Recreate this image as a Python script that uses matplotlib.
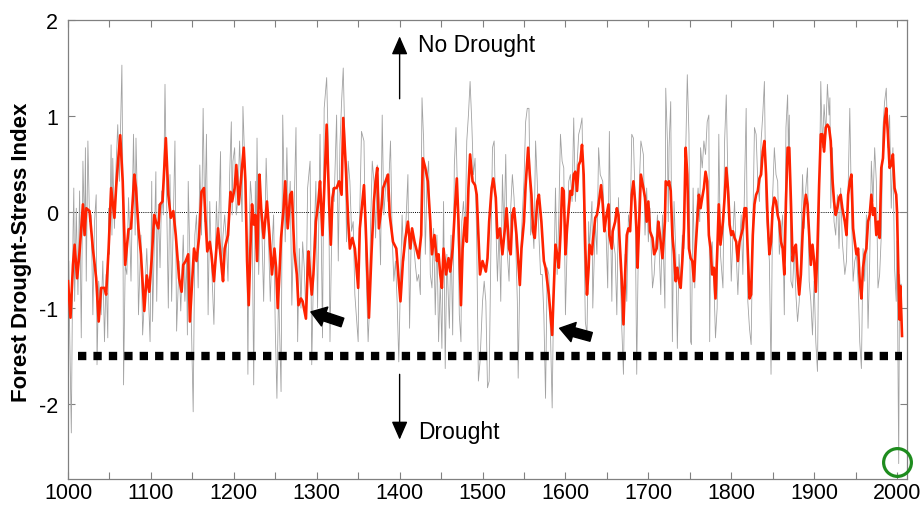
import matplotlib
matplotlib.use("Agg")
from matplotlib import pyplot as plt

# smoothed index (red)
red_years = [
    1000, 1003, 1006, 1008, 1011, 1014, 1018, 1020, 1022, 1026,
    1030, 1034, 1037, 1040, 1044, 1046, 1049, 1052, 1056, 1058,
    1060, 1063, 1066, 1069, 1073, 1076, 1080, 1082, 1085, 1088,
    1092, 1095, 1098, 1101, 1104, 1106, 1109, 1111, 1114, 1118,
    1121, 1124, 1127, 1130, 1134, 1137, 1139, 1142,
    1145, 1147, 1150, 1152, 1155, 1158, 1161, 1164, 1166, 1168,
    1171, 1173, 1176, 1179, 1181, 1185, 1187, 1189, 1193, 1196,
    1198, 1201, 1203, 1206, 1212, 1214, 1216, 1218, 1220, 1222,
    1224, 1226, 1228, 1231, 1233, 1236, 1240, 1243, 1246, 1249,
    1251, 1253, 1255, 1257, 1260, 1262, 1265, 1268, 1270, 1273,
    1276, 1278, 1281, 1283, 1287, 1289,
    1290, 1292, 1294, 1296, 1299, 1302, 1304, 1307, 1309, 1312,
    1315, 1317, 1319, 1321, 1324, 1327, 1330, 1332, 1335, 1338,
    1340, 1343, 1346, 1350, 1352, 1357, 1359, 1363, 1366, 1369,
    1371, 1373, 1375, 1378, 1380, 1383, 1386, 1388, 1392, 1396,
    1399, 1401, 1404, 1407, 1410, 1413, 1415, 1418, 1420, 1423,
    1426, 1428, 1431, 1434,
    1437, 1439, 1442, 1445, 1447, 1449, 1451, 1453, 1456, 1459,
    1461, 1464, 1467, 1469, 1471, 1474, 1476, 1479, 1481, 1483,
    1485, 1488, 1491, 1493, 1495, 1497, 1500, 1504, 1506, 1508,
    1511, 1513, 1516, 1518, 1521, 1524, 1527, 1529, 1532, 1534,
    1536, 1538, 1541, 1545, 1547, 1550, 1552, 1555, 1557, 1559,
    1561, 1563, 1566, 1568, 1571, 1574, 1576, 1579,
    1580, 1582, 1584, 1586, 1588, 1590, 1592, 1594, 1596, 1598,
    1600, 1602, 1604, 1606, 1608, 1610, 1612, 1614, 1616, 1618,
    1620, 1622, 1624, 1626, 1628, 1629, 1632, 1633, 1636, 1638,
    1640, 1643, 1645, 1647, 1649, 1652, 1653, 1656, 1657, 1660,
    1662, 1664, 1665, 1668, 1670, 1672, 1674, 1676, 1678, 1680,
    1682, 1684, 1686, 1687, 1689, 1691, 1694, 1696, 1698, 1700,
    1702, 1705, 1707, 1710, 1712, 1714, 1717, 1720, 1721, 1724,
    1725, 1727, 1729, 1731, 1733, 1735, 1737, 1739, 1741, 1743,
    1745, 1747, 1749, 1751, 1753, 1755, 1757, 1759, 1761, 1763,
    1765, 1767, 1769, 1771, 1773, 1775, 1777, 1779, 1781, 1783,
    1785, 1787, 1790, 1792, 1794, 1796, 1798, 1800, 1802, 1804,
    1806, 1808, 1810, 1812, 1814, 1816, 1818, 1820, 1822, 1824,
    1826, 1828, 1830, 1832, 1834, 1836, 1838, 1840, 1842, 1844,
    1846, 1848, 1850, 1852, 1854, 1856, 1858, 1860, 1862, 1864, 1866, 1868,
    1870, 1872, 1874, 1876, 1878, 1880, 1882, 1884, 1886, 1888,
    1890, 1892, 1894, 1896, 1898, 1900, 1902, 1904, 1906, 1908,
    1910, 1912, 1914, 1916, 1918, 1920, 1922, 1924, 1926, 1928,
    1930, 1932, 1934, 1937, 1939, 1941, 1943, 1945, 1947, 1949,
    1951, 1953, 1955, 1957, 1959, 1961, 1963, 1965, 1967, 1969,
    1971, 1973, 1975, 1977, 1979, 1981, 1983, 1985, 1987, 1989,
    1991, 1993, 1995, 1997, 1999, 2000, 2002, 2003, 2004, 2006,
]
red_index = [
    -0.72, -1.10, -0.55, -0.34, -0.69, -0.41, 0.08, -0.24, 0.04, 0.01,
    -0.38, -0.69, -1.14, -0.79, -0.79, -0.86, -0.38, 0.25, -0.06, 0.25,
    0.49, 0.80, 0.32, -0.55, -0.18, -0.17, 0.39, 0.25, -0.17, -0.44,
    -1.03, -0.66, -0.83, -0.48, -0.03, -0.10, -0.17, 0.08, 0.11, 0.77,
    0.18, -0.06, 0.01, -0.24, -0.69, -0.83, -0.55, -0.51,
    -0.44, -1.14, -0.69, -0.38, -0.51, -0.27, 0.21, 0.25, -0.10, -0.41,
    -0.31, -0.44, -0.72, -0.38, -0.17, -0.55, -0.72, -0.38, -0.24, 0.21,
    0.11, 0.25, 0.49, 0.08, 0.67, 0.32, -0.51, -0.97, -0.38, 0.08,
    -0.13, -0.03, -0.51, 0.39, 0.04, -0.27, 0.11, -0.24, -0.65, -0.38,
    -0.58, -1.00, -0.65, -0.27, 0.04, 0.32, -0.17, 0.18, 0.21, -0.41,
    -0.65, -0.97, -0.90, -0.93, -1.11, -0.62,
    -0.41, -0.65, -0.86, -0.65, -0.10, 0.11, 0.32, -0.24, 0.22, 0.91,
    0.08, -0.34, 0.15, 0.25, 0.25, 0.32, 0.18, 0.98, 0.49, -0.10,
    -0.38, -0.27, -0.38, -0.79, -0.17, 0.28, -0.13, -1.10, -0.44, 0.11,
    0.32, 0.46, -0.17, 0.04, 0.25, 0.32, 0.39, -0.03, -0.31, -0.38,
    -0.72, -0.93, -0.51, -0.27, -0.10, -0.38, -0.17, -0.31, -0.38, -0.48,
    -0.24, 0.56, 0.46, 0.32,
    -0.10, -0.44, -0.24, -0.51, -0.44, -0.65, -0.79, -0.38, -0.65, -0.48,
    -0.62, -0.38, 0.08, 0.35, -0.10, -0.97, -0.38, -0.06, -0.31, 0.25,
    0.60, 0.32, 0.28, 0.18, -0.24, -0.65, -0.51, -0.62, -0.48, -0.10,
    0.25, 0.35, 0.15, -0.27, -0.17, -0.44, -0.17, 0.04, -0.38, -0.44,
    -0.03, 0.04, -0.24, -0.76, -0.38, -0.10, 0.28, 0.67, 0.39, 0.18,
    -0.20, -0.27, 0.11, 0.18, -0.10, -0.51, -0.58, -0.79,
    -0.86, -1.07, -1.28, -0.79, -0.34, -0.44, -0.58, -0.24, 0.25, 0.22,
    -0.44, -0.17, 0.04, 0.22, 0.18, 0.39, 0.42, 0.22, 0.49, 0.53,
    0.70, 0.39, -0.38, -0.86, -0.58, -0.34, -0.44, -0.31, -0.06, -0.03,
    0.08, 0.28, 0.08, -0.20, -0.06, 0.08, -0.24, -0.38, -0.20, -0.10,
    0.04, -0.03, -0.24, -0.72, -1.17, -0.65, -0.24, -0.17, -0.20, 0.18,
    0.32, 0.11, -0.24, -0.58, -0.10, 0.39, 0.25, 0.15, -0.10, 0.11,
    -0.20, -0.27, -0.44, -0.38, -0.10, -0.24, -0.48, -0.10, 0.32, 0.28,
    0.32, 0.22, -0.24, -0.44, -0.72, -0.58, -0.72, -0.79, -0.51, -0.17,
    0.67, 0.39, -0.38, -0.48, -0.51, -0.72, -0.38, -0.10, 0.18, 0.04,
    0.15, 0.25, 0.42, 0.32, -0.24, -0.38, -0.65, -0.58, -0.90, -0.44,
    0.08, -0.34, -0.10, 0.15, 0.46, 0.25, -0.13, -0.24, -0.20, -0.27,
    -0.31, -0.51, -0.31, -0.24, -0.17, 0.04, 0.04, -0.44, -0.90, -0.86,
    -0.24, 0.08, 0.18, 0.22, 0.35, 0.39, 0.63, 0.74, 0.39, -0.10,
    -0.44, -0.31, 0.04, 0.15, 0.11, -0.03, -0.10, -0.31, -0.38, -0.65, 0.11, 0.67,
    0.67, 0.11, -0.51, -0.38, -0.34, -0.65, -0.86, -0.65, -0.24, 0.04,
    0.18, 0.08, -0.24, -0.55, -0.34, -0.51, -0.83, -0.38, 0.28, 0.81,
    0.81, 0.63, 0.88, 0.91, 0.88, 0.74, 0.35, 0.11, -0.03, 0.04,
    0.15, 0.18, 0.04, -0.10, -0.24, 0.18, 0.32, 0.39, -0.17, -0.31,
    -0.44, -0.38, -0.72, -0.90, -0.58, -0.44, -0.38, -0.10, -0.03, 0.18,
    -0.03, 0.04, -0.24, -0.10, -0.27, 0.46, 0.56, 0.94, 1.08, 0.81,
    0.46, 0.49, 0.60, 0.25, 0.18, 0.00, -0.80, -1.12, -0.77, -1.29,
]

# annual values (grey), main spikes
gray_years = [
    1000, 1001, 1002, 1004, 1006, 1007, 1008, 1010, 1012, 1014,
    1016, 1018, 1020, 1021, 1022, 1024, 1026, 1028, 1030, 1032,
    1034, 1035, 1037, 1040, 1042, 1044, 1046, 1048, 1049, 1050,
    1052, 1053, 1054, 1056, 1058, 1060, 1062, 1065, 1066, 1067,
    1069, 1071, 1073, 1075, 1076, 1079, 1081, 1082, 1083, 1085,
    1088, 1090, 1093, 1095, 1099, 1101, 1102, 1106, 1107, 1109,
    1111, 1113, 1115, 1117, 1119, 1121, 1123, 1125, 1129, 1131,
    1134, 1136, 1139, 1141, 1143, 1144,
    1145, 1149, 1151, 1153, 1155, 1157, 1159, 1161, 1163, 1165,
    1167, 1169, 1171, 1173, 1176, 1179, 1181, 1184, 1185, 1187,
    1189, 1191, 1193, 1195, 1197, 1198, 1199, 1201, 1203, 1205,
    1207, 1210, 1211, 1214, 1216, 1217, 1218, 1220, 1222, 1224,
    1226, 1227, 1228, 1230, 1232, 1234, 1236, 1239, 1241, 1244,
    1246, 1248, 1250, 1252, 1254, 1257, 1259, 1262, 1264, 1266,
    1268, 1270, 1272, 1275, 1277, 1279, 1281, 1283, 1285, 1287, 1289,
    1292, 1294, 1297, 1299, 1301, 1304, 1307, 1309, 1312, 1314,
    1316, 1319, 1321, 1324, 1326, 1328, 1330, 1332, 1334, 1336,
    1338, 1340, 1342, 1344, 1346, 1350, 1351, 1354, 1357, 1359,
    1362, 1363, 1365, 1367, 1369, 1371, 1373, 1375, 1377, 1379,
    1381, 1384, 1386, 1389, 1391, 1393, 1395, 1397, 1399, 1401,
    1403, 1405, 1407, 1410, 1412, 1414, 1417, 1419, 1421, 1423,
    1425, 1427, 1429, 1431, 1433,
    1435, 1437, 1439, 1441, 1443, 1445, 1447, 1449, 1451, 1453,
    1455, 1457, 1460, 1462, 1464, 1466, 1468, 1470, 1472, 1474,
    1475, 1477, 1479, 1481, 1483, 1485, 1487, 1489, 1491, 1493,
    1495, 1497, 1500, 1502, 1504, 1506, 1508, 1510, 1512, 1514,
    1516, 1518, 1520, 1522, 1524, 1526, 1528, 1530, 1532, 1534,
    1536, 1538, 1540, 1542, 1543, 1545, 1548, 1550, 1552, 1554,
    1556, 1558, 1560, 1562, 1564, 1566, 1568, 1570, 1572, 1574, 1576, 1578,
    1580, 1582, 1584, 1586, 1588, 1590, 1592, 1594, 1596, 1598,
    1600, 1602, 1604, 1606, 1608, 1610, 1612, 1614, 1616, 1618,
    1620, 1622, 1624, 1626, 1628, 1629, 1632, 1633, 1636, 1638,
    1640, 1642, 1645, 1647, 1649, 1651, 1653, 1654, 1656, 1657,
    1660, 1662, 1664, 1665, 1668, 1670, 1672, 1674, 1676, 1678,
    1680, 1682, 1684, 1686, 1687, 1689, 1691, 1694, 1696, 1698,
    1700, 1702, 1705, 1707, 1709, 1711, 1713, 1715, 1717, 1720, 1721, 1723, 1724,
    1725, 1727, 1729, 1731, 1733, 1735, 1737, 1739, 1741, 1743,
    1745, 1747, 1749, 1751, 1752, 1754, 1756, 1758, 1760, 1762,
    1763, 1765, 1767, 1769, 1771, 1773, 1774, 1775, 1777, 1779,
    1781, 1783, 1785, 1787, 1790, 1792, 1794, 1796, 1798, 1800,
    1802, 1804, 1806, 1808, 1810, 1812, 1814, 1816, 1818, 1820,
    1822, 1824, 1826, 1828, 1830, 1832, 1834, 1836, 1838, 1840,
    1842, 1844, 1846, 1848, 1850, 1852, 1854, 1856, 1858, 1860,
    1862, 1864, 1866, 1868, 1869,
    1870, 1872, 1874, 1876, 1878, 1880, 1882, 1884, 1886, 1888,
    1890, 1892, 1894, 1896, 1898, 1900, 1902, 1904, 1906, 1908,
    1910, 1912, 1914, 1916, 1918, 1919, 1920, 1922, 1924, 1926,
    1928, 1930, 1932, 1934, 1937, 1939, 1941, 1943, 1945, 1947,
    1949, 1951, 1953, 1955, 1957, 1959, 1961, 1963, 1965, 1967,
    1969, 1971, 1973, 1975, 1977, 1979, 1981, 1983, 1985, 1987,
    1989, 1991, 1993, 1995, 1997, 1999, 2000, 2001, 2002, 2003, 2004, 2005, 2006,
]
gray_index = [
    -0.70, -0.51, -1.24, -2.30, -0.24, 0.25, -0.93, 0.04, -0.86, 0.22,
    -1.31, 0.53, -0.24, 0.67, -0.72, 0.74, -0.10, -0.03, -1.07, -0.10,
    0.18, -1.59, -0.72, -1.07, -0.51, -1.35, -0.65, -1.31, 0.04, -0.44,
    0.70, -0.24, 0.56, -0.17, 0.49, 0.91, 0.32, 1.53, 0.49, -1.80,
    -0.55, -0.65, 0.15, -0.38, -0.72, 0.81, -0.24, 0.77, 0.39, -1.07,
    -0.24, -1.28, -0.79, -0.38, -1.35, 0.32, -1.14, 0.42, -0.93, 0.08,
    -0.58, 0.22, -0.03, 1.33, 0.11, -1.00, 0.39, -0.93, 0.74, -1.24,
    -0.51, -1.03, -0.24, -0.93, -0.51, -1.28,
    0.32, -1.24, -2.08, -0.24, -0.03, -0.79, 0.49, -0.24, 1.08, -0.10,
    0.81, -1.07, 0.11, -0.51, -1.17, 0.11, -0.38, 0.63, -0.65, -0.24,
    -0.03, -0.31, -0.72, 0.39, 0.94, -0.03, 0.53, 0.67, -0.03, 0.15,
    0.74, -0.10, 1.10, 0.32, -0.51, -1.69, -0.38, 0.32, 0.08, -1.80,
    0.32, -0.38, 0.77, -0.65, 0.11, -0.24, -0.93, 0.56, -0.03, -0.93,
    -0.38, -0.03, -1.21, -1.94, -0.79, -1.87, 1.01, -0.31, 0.67, -0.17,
    0.32, -0.97, -0.24, 0.88, -1.35, -0.38, -1.00, -0.31, -0.58, -1.10, 0.25,
    0.53, -1.59, -0.24, 0.32, -1.00, 0.81, -1.31, 1.08, 1.40, 0.67,
    -1.35, 0.25, 0.11, 1.01, -0.51, 0.70, 1.15, 1.50, 0.74, -0.31,
    0.53, 0.32, -0.20, -0.10, -0.86, -1.35, -0.38, 0.84, 0.74, -0.44,
    -1.35, -1.14, -0.13, 0.53, 0.32, -0.27, 0.49, 0.15, -0.55, 1.01,
    -0.03, 0.39, 0.11, 0.74, -0.24, -0.72, -0.51, -0.93, -1.56, -0.72,
    -0.03, -0.51, -0.24, 0.39, -1.21, -0.24, -0.34, -0.55, -0.72, -0.65,
    -0.86, 1.19, 0.74, -0.44, 0.32,
    0.53, -0.65, -0.79, -0.17, -1.07, -0.24, -1.35, -0.72, -1.42, 0.11,
    -1.63, -0.44, -1.21, -0.24, -1.28, 0.49, 0.88, 0.11, -1.07, -1.35,
    -0.10, 0.11, -0.24, 0.74, 1.01, 1.36, 0.94, 0.39, 0.56, -0.31,
    -1.76, -1.56, -0.93, -0.72, -0.93, -1.83, -1.76, -0.44, 0.67, 0.74,
    -0.10, -0.72, -0.17, -0.93, 0.39, -0.24, 0.60, -0.44, -0.72, 0.04,
    0.39, 0.15, -0.31, -0.93, -1.73, -0.65, -0.03, 0.32, 0.94, 1.08,
    1.08, -0.24, -0.10, -0.38, 0.74, 0.32, -0.24, -0.65, -0.65, -1.07, -1.94, -0.58,
    -0.65, -1.28, -2.04, -0.72, 0.25, -0.65, -0.03, 0.81, 0.53, 0.46,
    -1.07, -0.38, 0.32, 0.39, 0.11, 0.98, 0.11, 0.49, 0.81, 0.88,
    0.98, -0.03, -1.14, -1.28, -0.10, -0.38, 0.11, -1.00, -0.10, -0.44,
    0.67, 0.39, 0.32, -0.10, -0.20, -0.79, 0.84, 0.15, -0.93, -0.24,
    -0.44, -1.07, 0.15, -0.24, -1.21, -1.69, -0.44, -0.93, -0.03, -0.17,
    0.81, 0.77, 0.15, -1.69, -0.97, 0.25, 0.74, 0.60, -0.24, 0.25,
    -0.31, 0.04, -0.79, -0.65, -0.31, -0.03, -0.38, -0.86, -0.03, -1.00, 1.29, 0.74, -0.10,
    0.67, 1.15, -1.35, 0.11, -0.38, -1.42, -0.44, -0.79, -0.24, -0.38,
    0.60, 1.43, 0.81, -1.35, -1.38, 0.25, -0.79, -0.03, 0.25, -0.10,
    0.67, 0.46, 0.74, 0.60, 0.94, 1.01, -1.35, -0.44, -0.31, -0.72,
    -1.31, -1.00, 0.81, -0.44, -0.79, 0.74, 1.22, 0.32, 0.11, -0.72,
    -0.24, 0.11, -0.44, -0.86, -0.38, -0.03, -0.65, 0.25, 1.08, -0.93,
    -1.21, -1.38, -0.17, 0.88, 0.81, 0.32, 0.11, 0.74, 1.01, 1.36,
    0.04, -0.24, -0.51, -1.69, 0.18, 0.67, 0.39, 0.32, -0.44, -0.24,
    -0.03, -1.07, 0.88, 1.22, 0.60,
    1.01, -0.72, -0.79, -0.38, -0.86, -1.14, -0.93, -0.38, 0.39, -0.17,
    0.25, 0.46, -0.72, -0.93, -1.28, -0.72, -1.35, -1.66, -0.03, 1.36,
    0.67, 1.12, 0.81, 1.33, 1.01, 1.19, 0.04, 0.67, -0.10, -0.24,
    0.18, -0.38, 0.25, -0.31, -0.65, -0.51, 0.25, 1.08, 0.04, -0.72,
    -0.51, -0.44, -0.72, -1.35, -1.63, -0.38, -0.72, -0.03, -1.21, -0.51,
    0.53, 0.11, 0.67, 0.32, -0.79, -0.65, -0.24, 0.88, 1.15, 1.29,
    0.67, 1.01, 0.04, 0.67, -0.58, -0.93, -0.30, -1.46, -2.62, -0.65, -0.85, -0.75, -1.30,
]

threshold_years = [1012, 2006]
threshold = -1.5
x_ticks = list(range(1000, 2001, 100))
y_ticks = [-2, -1, 0, 1, 2]
y_labels = ["-2", "-1", "0", "1", "2"]

plt.rcParams['font.family'] = ['Liberation Sans', 'DejaVu Sans']

fig = plt.figure(figsize=(9.23, 5.06), dpi=100)
ax = fig.add_axes([68 / 923, 26 / 506, 839 / 923, 459 / 506])

ax.axhline(0, color='black', lw=0.7, ls=(0, (1, 1.2)), zorder=1)
ax.plot(gray_years, gray_index, color='#a2a2a2', lw=0.6, zorder=2)
ax.plot(red_years, red_index, color='#ff2200', lw=1.9, zorder=3,
        solid_joinstyle='round')
ax.plot(threshold_years, [threshold, threshold], color='black', lw=6.0,
        dashes=(1.0, 0.85), dash_capstyle='butt', zorder=4)

# arrows pointing at the two big droughts
big_arrow = dict(arrowstyle='simple,head_length=0.8,head_width=1.1,tail_width=0.5',
                 color='black', mutation_scale=13, shrinkA=0, shrinkB=0)
ax.annotate('', xy=(1293, -1.04), xytext=(1331, -1.15), arrowprops=big_arrow)
ax.annotate('', xy=(1593, -1.21), xytext=(1631, -1.30), arrowprops=big_arrow)

thin_arrow = dict(arrowstyle='-|>,head_length=0.8,head_width=0.35', color='black',
                  lw=1.0, mutation_scale=14, shrinkA=0, shrinkB=0)
ax.annotate('', xy=(1400, 1.83), xytext=(1400, 1.18), arrowprops=thin_arrow)
ax.annotate('', xy=(1400, -2.37), xytext=(1400, -1.69), arrowprops=thin_arrow)
ax.text(1422, 1.74, 'No Drought', fontsize=16.5, va='center', ha='left')
ax.text(1422, -2.29, 'Drought', fontsize=16.5, va='center', ha='left')

# highlight the latest value
ax.plot([1999.5], [-2.60], marker='o', ms=20, mfc='none', mec='#1e8c1e',
        mew=2.3, clip_on=False, zorder=5)

ax.set_xlim(1000, 2012)
ax.set_ylim(-2.78, 2)
ax.set_xticks(x_ticks)
ax.set_xticks(range(1050, 2001, 100), minor=True)
ax.set_yticks(y_ticks)
ax.set_yticklabels(y_labels)
ax.tick_params(which='both', direction='in', top=True, right=True, length=5,
               width=0.8, color='#808080', labelsize=15.5)
ax.tick_params(axis='x', pad=2)
ax.tick_params(axis='y', pad=7)
for s in ax.spines.values():
    s.set_color('#808080')
    s.set_linewidth(0.9)

fig.text(22 / 923, 0.502, 'Forest Drought-Stress Index', rotation=90,
         fontsize=16, fontweight='bold', ha='center', va='center')

fig.savefig('out.png', dpi=100)
